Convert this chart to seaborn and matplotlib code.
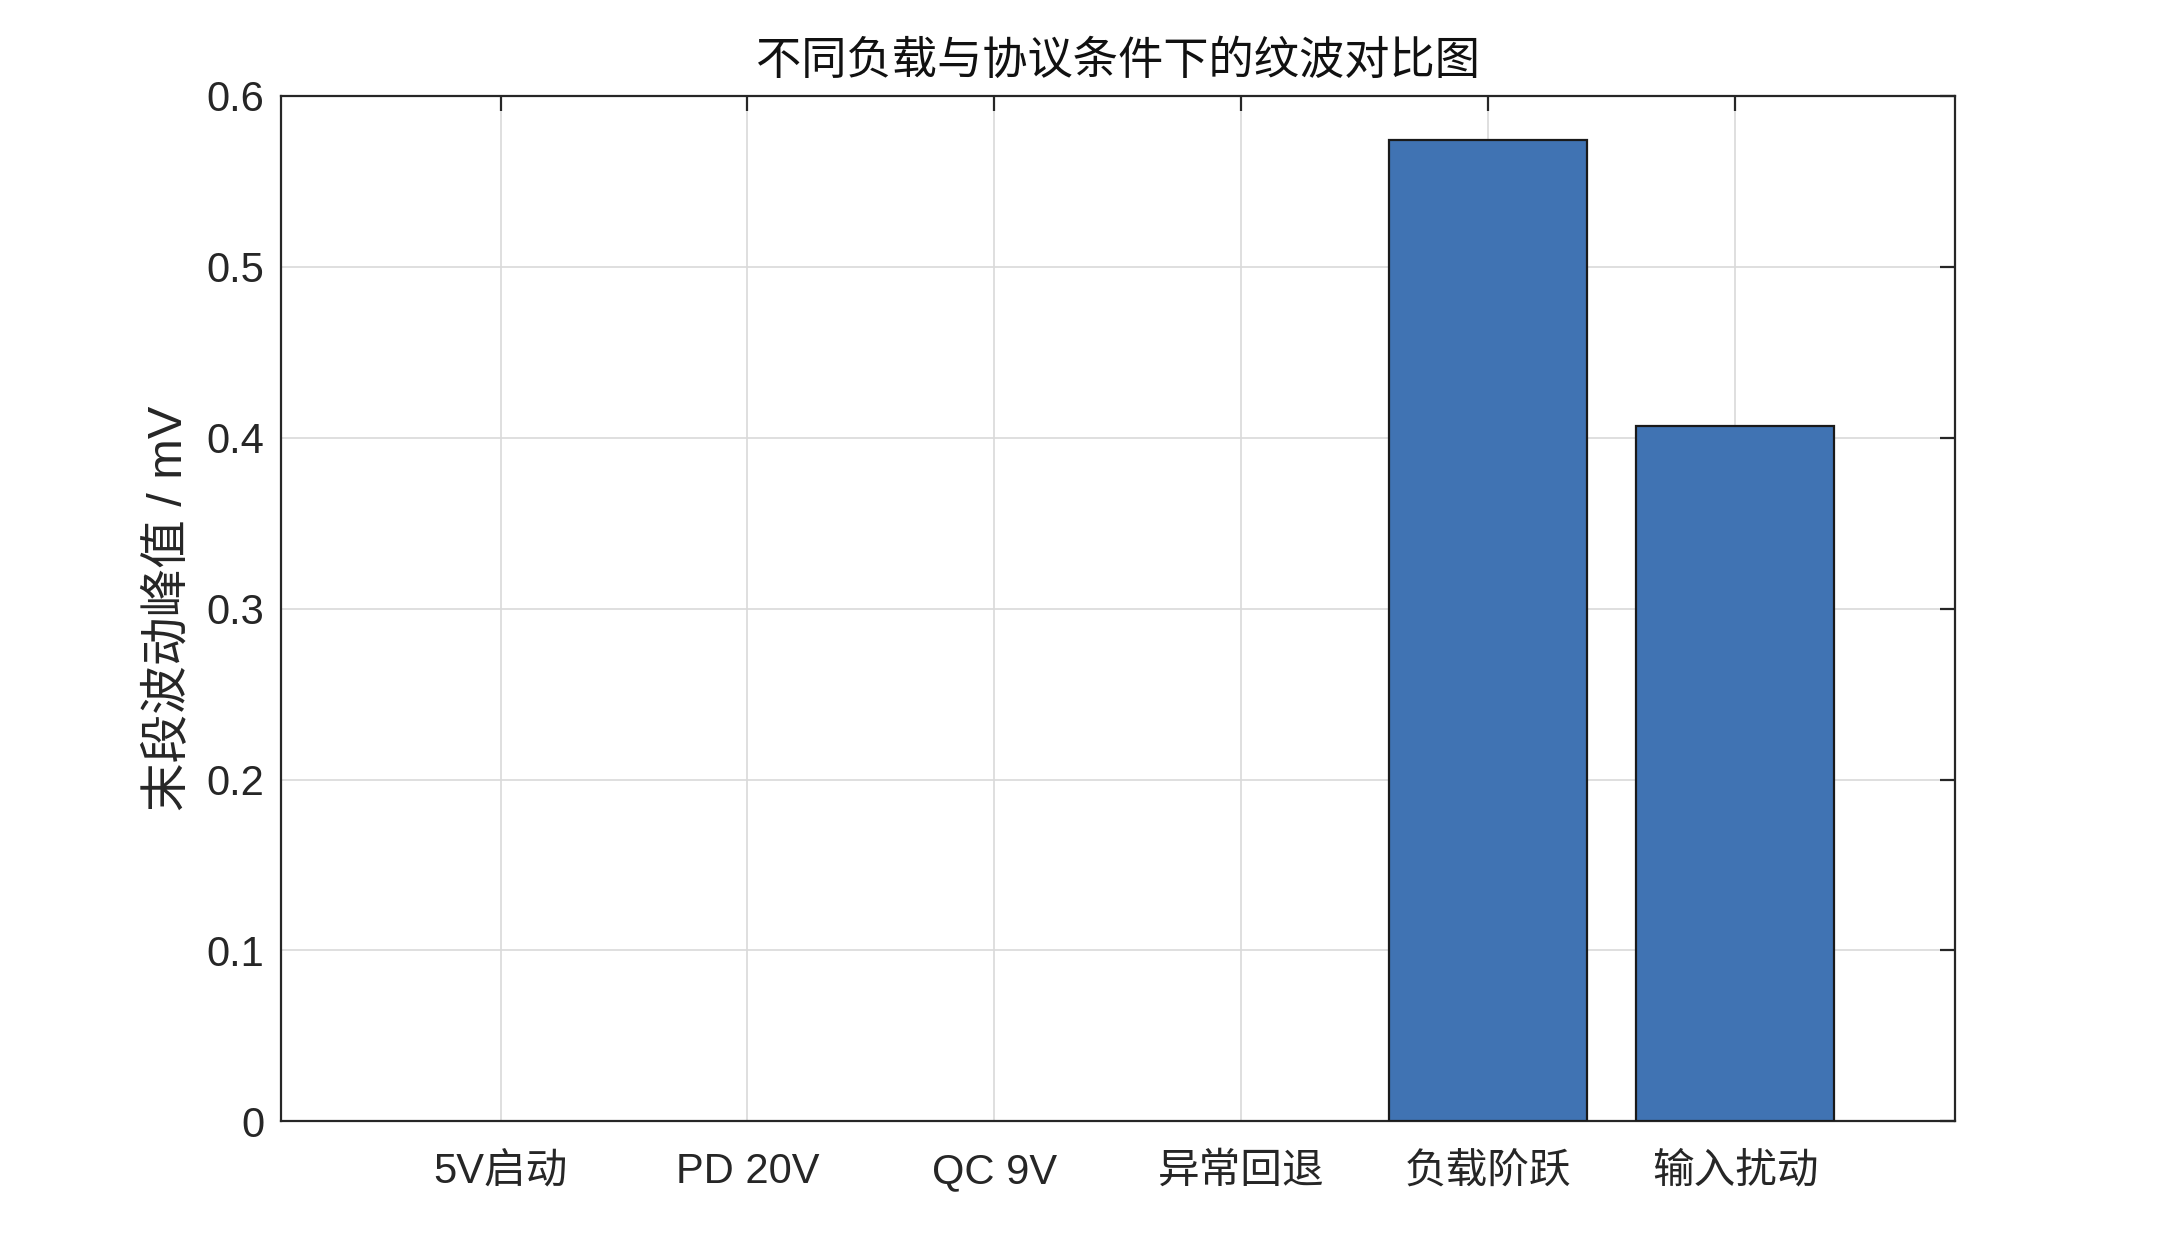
import matplotlib

matplotlib.use('Agg')
import matplotlib.pyplot as plt
import seaborn as sns
import pandas as pd

# --- data ---
categories = ['5V启动', 'PD 20V', 'QC 9V', '异常回退', '负载阶跃', '输入扰动']
ripple_mv = [0.0, 0.0, 0.0, 0.0, 0.574, 0.407]
yticks = [0, 0.1, 0.2, 0.3, 0.4, 0.5, 0.6]
ytick_labels = ['0', '0.1', '0.2', '0.3', '0.4', '0.5', '0.6']

sns.set_theme(style='white')
plt.rcParams['font.family'] = ['Liberation Sans', 'Noto Sans CJK SC', 'DejaVu Sans']
plt.rcParams['axes.unicode_minus'] = False

df = pd.DataFrame({'case': categories, 'ripple': ripple_mv})

fig = plt.figure(figsize=(10.8, 6.3), dpi=200)
ax = fig.add_axes([0.13, 0.11, 0.775, 0.814])

sns.barplot(data=df, x='case', y='ripple', ax=ax, color='#4073b3',
            saturation=1, width=0.8, edgecolor='#1a1a1a', linewidth=0.8,
            zorder=3)
# zero-height bars: hide their outline so the baseline stays clean
for patch, v in zip(ax.patches, ripple_mv):
    if v == 0:
        patch.set_linewidth(0)

ax.set_xlim(-0.89, 5.89)
ax.set_ylim(0, 0.6)
ax.set_yticks(yticks)
ax.set_yticklabels(ytick_labels)

ax.grid(True, color='#d9d9d9', linewidth=0.6, zorder=0)
ax.set_axisbelow(True)

for sp in ax.spines.values():
    sp.set_visible(True)
    sp.set_color('#262626')
    sp.set_linewidth(0.8)

ax.tick_params(axis='both', which='major', direction='in', length=5.5,
               width=0.8, color='#262626', labelsize=15, labelcolor='#262626',
               top=True, right=True, pad=6)
ax.tick_params(axis='x', pad=11)

ax.set_xlabel('')
ax.set_ylabel('末段波动峰值 / mV', fontsize=17.5, color='#262626', labelpad=5)
ax.set_title('不同负载与协议条件下的纹波对比图', fontsize=16.3, color='#111111', pad=8)

fig.savefig('out.png', dpi=200)
plt.close(fig)
